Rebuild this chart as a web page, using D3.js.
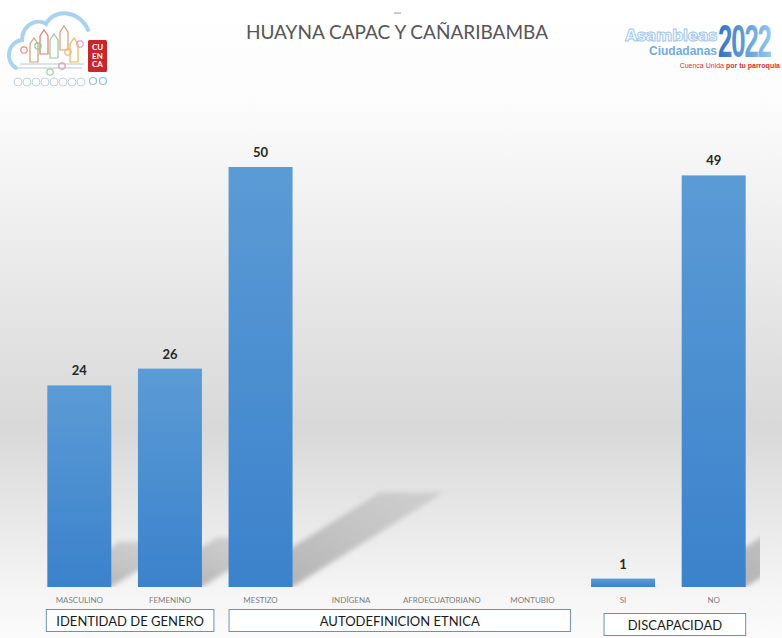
<!DOCTYPE html>
<html>
<head>
<meta charset="utf-8">
<script src="https://cdn.jsdelivr.net/npm/d3@7"></script>
<style>
  html, body { margin: 0; padding: 0; background: #fff; }
  svg { display: block; font-family: Lato, "Open Sans", sans-serif; }
</style>
</head>
<body>
<svg width="782" height="638"></svg>
<script>
var title = 'HUAYNA CAPAC Y CAÑARIBAMBA';

var categories = ['MASCULINO', 'FEMENINO', 'MESTIZO', 'INDÍGENA', 'AFROECUATORIANO', 'MONTUBIO', 'SI', 'NO'];
var values = [24, 26, 50, null, null, null, 1, 49];

var groupNames = ['IDENTIDAD DE GENERO', 'AUTODEFINICION ETNICA', 'DISCAPACIDAD'];
var groupFirst = ['MASCULINO', 'MESTIZO', 'SI'];
var groupLast = ['FEMENINO', 'MONTUBIO', 'NO'];

var data = categories.map(function(c, i) { return { cat: c, value: values[i] }; });

var svg = d3.select('svg');
var defs = svg.append('defs');

// page background: white at the top, grey band low in the plot, lighter at the bottom
var bg = defs.append('linearGradient').attr('id', 'bg')
  .attr('x1', 0).attr('y1', 0).attr('x2', 0).attr('y2', 1);
[[0, '#ffffff'], [0.16, '#fcfcfc'], [0.67, '#d8d8d8'], [0.93, '#f5f5f5'], [1, '#fbfbfb']]
  .forEach(function(s) { bg.append('stop').attr('offset', s[0]).attr('stop-color', s[1]); });

var barGrad = defs.append('linearGradient').attr('id', 'bar')
  .attr('x1', 0).attr('y1', 0).attr('x2', 0).attr('y2', 1);
barGrad.append('stop').attr('offset', 0).attr('stop-color', '#5b9bd5');
barGrad.append('stop').attr('offset', 1).attr('stop-color', '#3b82cc');

var shadowGrad = defs.append('linearGradient').attr('id', 'shadow')
  .attr('x1', 0).attr('y1', 1).attr('x2', 1).attr('y2', 0);
shadowGrad.append('stop').attr('offset', 0).attr('stop-color', '#8c8c8c').attr('stop-opacity', 0.7);
shadowGrad.append('stop').attr('offset', 1).attr('stop-color', '#a8a8a8').attr('stop-opacity', 0.35);

defs.append('filter').attr('id', 'blur')
  .attr('x', '-20%').attr('y', '-20%').attr('width', '140%').attr('height', '140%')
  .append('feGaussianBlur').attr('stdDeviation', 2.5);

defs.append('clipPath').attr('id', 'plotClip')
  .append('rect').attr('x', 34).attr('y', 90).attr('width', 726).attr('height', 497);

svg.append('rect').attr('width', 782).attr('height', 638).attr('fill', 'url(#bg)');

// scales
var x = d3.scaleBand()
  .domain(categories)
  .range([34, 759])
  .paddingInner(0.294)
  .paddingOuter(0.147);

var y = d3.scaleLinear()
  .domain([0, 50])
  .range([587, 167]);

var bars = data.filter(function(d) { return d.value != null; });

// cast shadows behind the bars
svg.append('g')
  .attr('clip-path', 'url(#plotClip)')
  .selectAll('path.shadow')
  .data(bars)
  .enter()
    .append('path')
      .attr('class', 'shadow')
      .attr('fill', 'url(#shadow)')
      .attr('filter', 'url(#blur)')
      .attr('d', function(d) {
        var x0 = x(d.cat), x1 = x0 + x.bandwidth();
        var h = y(0) - y(d.value);
        var dx = h * 0.36, dy = h * 0.225;
        return 'M' + x0 + ',' + y(0) + 'L' + x1 + ',' + y(0) +
          'L' + (x1 + dx) + ',' + (y(0) - dy) + 'L' + (x0 + dx) + ',' + (y(0) - dy) + 'Z';
      });

svg.append('g')
  .selectAll('rect.bar')
  .data(bars)
  .enter()
    .append('rect')
      .attr('class', 'bar')
      .attr('x', function(d) { return x(d.cat); })
      .attr('y', function(d) { return y(d.value); })
      .attr('width', x.bandwidth())
      .attr('height', function(d) { return y(0) - y(d.value); })
      .attr('fill', 'url(#bar)');

// value labels
svg.append('g')
  .selectAll('text')
  .data(bars)
  .enter()
    .append('text')
      .attr('x', function(d) { return x(d.cat) + x.bandwidth() / 2; })
      .attr('y', function(d) { return y(d.value) - 10; })
      .attr('text-anchor', 'middle')
      .attr('font-size', 13)
      .attr('font-weight', 700)
      .attr('fill', '#262626')
      .text(function(d) { return d.value; });

// category labels
svg.append('g')
  .selectAll('text')
  .data(categories)
  .enter()
    .append('text')
      .attr('x', function(d) { return x(d) + x.bandwidth() / 2; })
      .attr('y', 603)
      .attr('text-anchor', 'middle')
      .attr('font-size', 8)
      .attr('fill', '#7f7f7f')
      .text(function(d) { return d; });

// group boxes under the categories
var boxInset = [[-1, 12, 609], [0.5, 6, 609], [13, 0, 613]];
var boxes = svg.append('g')
  .selectAll('g.group')
  .data(groupNames)
  .enter()
    .append('g')
      .attr('class', 'group');

boxes.append('rect')
  .attr('x', function(d, i) { return x(groupFirst[i]) + boxInset[i][0]; })
  .attr('y', function(d, i) { return boxInset[i][2] + 0.5; })
  .attr('width', function(d, i) {
    return x(groupLast[i]) + x.bandwidth() + boxInset[i][1] - x(groupFirst[i]) - boxInset[i][0];
  })
  .attr('height', 22)
  .attr('fill', '#ffffff')
  .attr('stroke', '#6f8fb5')
  .attr('stroke-width', 1);

boxes.append('text')
  .attr('x', function(d, i) {
    return (x(groupFirst[i]) + boxInset[i][0] + x(groupLast[i]) + x.bandwidth() + boxInset[i][1]) / 2;
  })
  .attr('y', function(d, i) { return boxInset[i][2] + 16.5; })
  .attr('text-anchor', 'middle')
  .attr('font-size', 13)
  .attr('fill', '#1a1a1a')
  .text(function(d) { return d; });

// title
svg.append('line')
  .attr('x1', 394).attr('x2', 401).attr('y1', 13).attr('y2', 13)
  .attr('stroke', '#9a9a9a').attr('stroke-width', 1);

svg.append('text')
  .attr('x', 397)
  .attr('y', 39)
  .attr('text-anchor', 'middle')
  .attr('font-size', 19)
  .attr('fill', '#555555')
  .text(title);

// left logo (rough sketch of the municipal emblem)
var logo = svg.append('g').attr('class', 'logo-left');
logo.append('path')
  .attr('d', 'M16,68 C4,60 8,42 22,40 C22,24 38,18 46,24 C54,8 80,10 88,30')
  .attr('fill', 'none').attr('stroke', '#a9d2ee').attr('stroke-width', 4)
  .attr('stroke-linecap', 'round');
var houses = [[30, 38, '#c9a27b'], [40, 30, '#e07b6f'], [50, 34, '#9cc7a0'], [60, 26, '#c9a27b'], [70, 38, '#e8b85b']];
houses.forEach(function(h) {
  logo.append('path')
    .attr('d', 'M' + h[0] + ',' + (h[1] + 24) + 'V' + (h[1] + 6) + 'L' + (h[0] + 4) + ',' + h[1] +
      'L' + (h[0] + 8) + ',' + (h[1] + 6) + 'V' + (h[1] + 24) + 'Z')
    .attr('fill', 'none').attr('stroke', h[2]).attr('stroke-width', 1.2);
});
[[24, 50, '#e88a8a'], [38, 46, '#8fc98f'], [68, 52, '#f0b860'], [80, 44, '#d9a0d0'], [50, 72, '#9cd39c'], [62, 66, '#e88a8a']]
  .forEach(function(c) {
    logo.append('circle').attr('cx', c[0]).attr('cy', c[1]).attr('r', 3.2)
      .attr('fill', 'none').attr('stroke', c[2]).attr('stroke-width', 1.2);
  });
logo.append('path').attr('d', 'M20,64 H84 M18,68 H82')
  .attr('stroke', '#b7c8d8').attr('stroke-width', 1.2);
d3.range(8).forEach(function(i) {
  logo.append('circle').attr('cx', 18 + i * 9).attr('cy', 82).attr('r', 4)
    .attr('fill', 'none').attr('stroke', '#c2d2e0').attr('stroke-width', 1);
});
logo.append('circle').attr('cx', 93).attr('cy', 81).attr('r', 3.5)
  .attr('fill', 'none').attr('stroke', '#8fbfe6').attr('stroke-width', 1.2);
logo.append('circle').attr('cx', 103).attr('cy', 81).attr('r', 3.5)
  .attr('fill', 'none').attr('stroke', '#8fbfe6').attr('stroke-width', 1.2);
logo.append('rect').attr('x', 88).attr('y', 40).attr('width', 19).attr('height', 32)
  .attr('rx', 1.5).attr('fill', '#c9252c');
['CU', 'EN', 'CA'].forEach(function(t, i) {
  logo.append('text').attr('x', 97.5).attr('y', 50 + i * 8.5).attr('text-anchor', 'middle')
    .attr('font-size', 8).attr('font-weight', 700).attr('fill', '#ffffff').text(t);
});

// right logo
var logo2 = svg.append('g').attr('class', 'logo-right');
var g2022 = defs.append('linearGradient').attr('id', 'g2022').attr('x1', 0).attr('x2', 1);
g2022.append('stop').attr('offset', 0).attr('stop-color', '#3472c2');
g2022.append('stop').attr('offset', 1).attr('stop-color', '#93c8ef');
logo2.append('text').attr('x', 717).attr('y', 41).attr('text-anchor', 'end')
  .attr('font-size', 16).attr('font-weight', 700)
  .attr('fill', '#f5f9fd').attr('stroke', '#9cc6ea').attr('stroke-width', 0.9)
  .attr('font-family', '"DejaVu Sans", sans-serif').attr('letter-spacing', -0.6)
  .text('Asambleas');
logo2.append('text').attr('x', 717).attr('y', 55).attr('text-anchor', 'end')
  .attr('font-size', 12).attr('font-weight', 700).attr('fill', '#73acdf')
  .attr('font-family', '"Liberation Sans", sans-serif')
  .text('Ciudadanas');
logo2.append('text').attr('transform', 'translate(718,57) scale(0.56,1)')
  .attr('font-size', 46).attr('font-weight', 700).attr('fill', 'url(#g2022)')
  .attr('font-family', '"Liberation Sans", sans-serif').attr('letter-spacing', -2)
  .text('2022');
var tag = logo2.append('text').attr('x', 780).attr('y', 68).attr('text-anchor', 'end')
  .attr('font-size', 7).attr('fill', '#d8333b')
  .attr('font-family', '"Liberation Sans", sans-serif');
tag.append('tspan').text('Cuenca Unida ');
tag.append('tspan').attr('font-weight', 700).text('por tu parroquia');
</script>
</body>
</html>
